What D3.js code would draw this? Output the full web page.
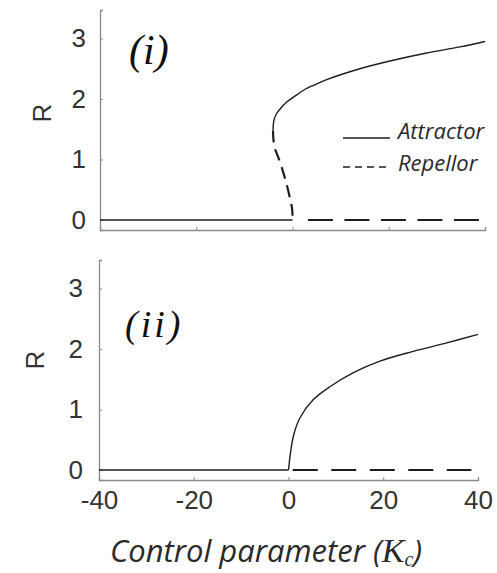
<!DOCTYPE html>
<html>
<head>
<meta charset="utf-8">
<script src="https://cdn.jsdelivr.net/npm/d3@7"></script>
<style>
  body { margin: 0; background: #fff; }
  svg { display: block; }
</style>
</head>
<body>
<script>
// ---- data ----
var xTicks = [-40, -20, 0, 20, 40];
var yTicks = [0, 1, 2, 3];

// panel (i): saddle-node (hysteresis) diagram
var lowAttractorI = [[-40, 0], [0, 0]];
var upperAttractorI = [[-4.05, 1.48], [-3.85, 1.65], [-3.3, 1.76], [-2.2, 1.87], [-1.2, 1.95], [0.2, 2.03],
  [2.2, 2.14], [4.5, 2.23], [7.1, 2.32], [14, 2.5], [20.9, 2.64], [27.9, 2.76], [34.8, 2.86], [40, 2.95]];
var repellorCurveI = [[-4.05, 1.48], [-3.95, 1.32], [-3.64, 1.18], [-2.74, 0.99], [-1.56, 0.69], [-0.52, 0.36],
  [-0.15, 0.22], [0, 0.1], [0, 0]];
var repellorZeroI = [[3.2, 0], [40, 0]];

// panel (ii): supercritical transition
var lowAttractorII = [[-40, 0], [0, 0]];
var upperAttractorII = [[0, 0], [1.0, 0.55], [2.4, 0.86], [5.2, 1.16], [8.8, 1.38], [13.7, 1.61], [19.3, 1.8],
  [26.3, 1.96], [33.4, 2.1], [40, 2.24]];
var repellorZeroII = [[0.9, 0], [38.6, 0]];

var legendLabels = ['Attractor', 'Repellor'];

// ---- drawing ----
var width = 497, height = 573;
var ink = '#1e1e1e', axisCol = '#8a8a8a', textCol = '#333';

var svg = d3.select('body').append('svg').attr('width', width).attr('height', height);

function makePanel(opt) {
  var x = d3.scaleLinear().domain([-40, 40]).range(opt.xr);
  var y = d3.scaleLinear().domain([-0.165, 3.47]).range(opt.yr);
  var g = svg.append('g');

  var xAxis = d3.axisBottom(x).tickValues(xTicks).tickSize(-3).tickPadding(11)
    .tickFormat(opt.xLabels ? function (d) { return String(d); } : '');
  var gx = g.append('g').attr('transform', 'translate(0,' + opt.yr[0] + ')').call(xAxis);
  var gy = g.append('g').attr('transform', 'translate(' + opt.xr[0] + ',0)')
    .call(d3.axisLeft(y).tickValues(yTicks).tickSize(-3).tickPadding(opt.yPad).tickFormat(d3.format('d')));

  [gx, gy].forEach(function (a) {
    a.select('.domain').attr('stroke', axisCol).attr('stroke-width', 1.3);
    a.selectAll('.tick line').attr('stroke', axisCol);
    a.selectAll('.tick text').attr('fill', textCol)
      .style('font-family', '"Liberation Sans", Arial, sans-serif').style('font-size', '26px');
  });

  g.append('text')
    .attr('transform', 'translate(' + opt.rPos[0] + ',' + opt.rPos[1] + ') rotate(-90)')
    .attr('text-anchor', 'middle').attr('dy', '0.35em')
    .attr('fill', textCol)
    .style('font-family', '"Liberation Sans", Arial, sans-serif').style('font-size', '26px')
    .text('R');

  g.append('text')
    .attr('x', opt.tag.x).attr('y', opt.tag.y)
    .attr('fill', '#111')
    .style('font-family', '"Liberation Serif", "Times New Roman", serif')
    .style('font-style', 'italic').style('font-size', opt.tag.size + 'px')
    .style('letter-spacing', opt.tag.ls + 'px')
    .text(opt.tag.text);

  var line = d3.line().x(function (d) { return x(d[0]); }).y(function (d) { return y(d[1]); });
  var smooth = d3.line().curve(d3.curveCatmullRom.alpha(0.5))
    .x(function (d) { return x(d[0]); }).y(function (d) { return y(d[1]); });

  opt.series.forEach(function (s) {
    g.append('path')
      .attr('d', (s.smooth ? smooth : line)(s.data))
      .attr('fill', 'none')
      .attr('stroke', ink)
      .attr('stroke-width', s.w)
      .attr('stroke-dasharray', s.dash || null);
  });
  return g;
}

makePanel({
  xr: [100, 485], yr: [230, 10], yPad: 14, xLabels: false, rPos: [42, 113],
  tag: { text: '(i)', x: 129, y: 64, size: 42, ls: 0 },
  series: [
    { data: lowAttractorI, w: 1.4 },
    { data: upperAttractorI, w: 1.4, smooth: true },
    { data: repellorCurveI, w: 2.2, smooth: true, dash: '12,7' },
    { data: repellorZeroI, w: 2.2, dash: '25,11.5' }
  ]
});

makePanel({
  xr: [99, 478], yr: [480, 260], yPad: 16, xLabels: true, rPos: [35, 360],
  tag: { text: '(ii)', x: 125, y: 337, size: 38, ls: 3 },
  series: [
    { data: lowAttractorII, w: 1.4 },
    { data: upperAttractorII, w: 1.4, smooth: true },
    { data: repellorZeroII, w: 2.2, dash: '25,13.5' }
  ]
});

// legend (panel i)
var legend = svg.append('g');
legendLabels.forEach(function (lab, i) {
  var yy = 138 + i * 29;
  legend.append('line')
    .attr('x1', 343).attr('x2', 390).attr('y1', yy).attr('y2', yy)
    .attr('stroke', ink).attr('stroke-width', 1.4)
    .attr('stroke-dasharray', i === 1 ? '7,5' : null);
  legend.append('text')
    .attr('x', 398).attr('y', 139 + i * 32)
    .attr('fill', '#2a2a2a')
    .style('font-family', '"Open Sans", "Noto Sans", sans-serif')
    .style('font-style', 'italic').style('font-size', '22px')
    .text(lab);
});

// x axis title
var xt = svg.append('text')
  .attr('x', 110).attr('y', 562)
  .attr('fill', '#2a2a2a')
  .style('font-family', '"Open Sans", "Noto Sans", sans-serif')
  .style('font-style', 'italic').style('font-size', '31px');
xt.append('tspan').text('Control parameter (');
xt.append('tspan').style('font-family', '"Liberation Serif", serif').style('font-size', '34px').text('K');
xt.append('tspan').attr('dy', 4).style('font-family', '"Liberation Serif", serif').style('font-size', '20px').text('c');
xt.append('tspan').attr('dy', -4).text(')');
</script>
</body>
</html>
